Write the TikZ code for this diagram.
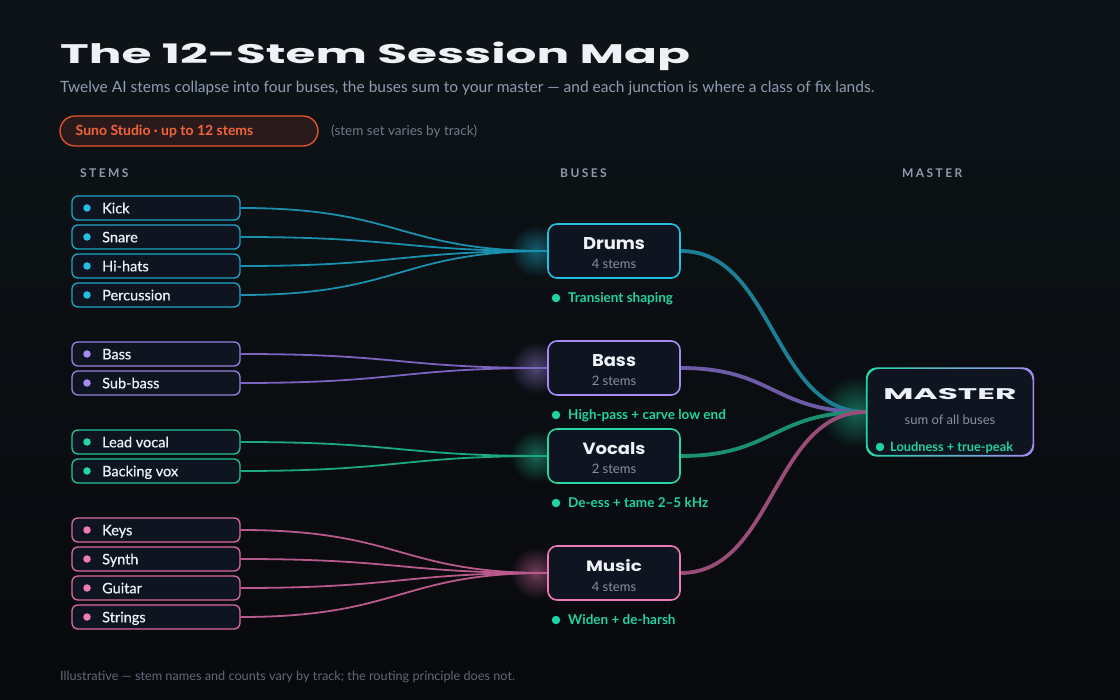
\documentclass[tikz,border=0pt]{standalone}
\usepackage{fontspec}
\setmainfont{Lato}
\newfontfamily\disp{Poppins}
\usepackage{graphicx}
\usetikzlibrary{calc,fadings}

\definecolor{bgT}{HTML}{0D1417}
\definecolor{bgB}{HTML}{08090D}
\definecolor{boxfill}{HTML}{0F1520}
\definecolor{txtW}{HTML}{EEF1F6}
\definecolor{subG}{HTML}{8F9DB2}
\definecolor{headG}{HTML}{8E9AAD}
\definecolor{footG}{HTML}{5F6A79}
\definecolor{dimG}{HTML}{6E7A8B}
\definecolor{stemsG}{HTML}{8790A0}
\definecolor{fixT}{HTML}{21D3A1}
\definecolor{badgeB}{HTML}{E5562B}
\definecolor{badgeF}{HTML}{2B1A1B}
\definecolor{badgeT}{HTML}{F2643A}
% groups
\definecolor{cyB}{HTML}{22C0E4}
\definecolor{cyS}{HTML}{1EA5C8}
\definecolor{cyL}{HTML}{1A8FAE}
\definecolor{cyM}{HTML}{1C7F96}
\definecolor{puB}{HTML}{A68CF2}
\definecolor{puS}{HTML}{9A80E0}
\definecolor{puL}{HTML}{7A64C0}
\definecolor{puM}{HTML}{6D5BA8}
\definecolor{grB}{HTML}{26D6A4}
\definecolor{grS}{HTML}{22C497}
\definecolor{grL}{HTML}{1BA883}
\definecolor{grM}{HTML}{1A8F72}
\definecolor{piB}{HTML}{F07AB6}
\definecolor{piS}{HTML}{DC6AA6}
\definecolor{piL}{HTML}{B85A8C}
\definecolor{piM}{HTML}{9A4D78}
\definecolor{mGreen}{HTML}{22D6A6}
\definecolor{mPurple}{HTML}{A38CF0}

\tikzfading[name=glowfade, inner color=transparent!55, outer color=transparent!100]
\pgfdeclarelayer{bglayer}
\pgfdeclarelayer{lines}
\pgfsetlayers{bglayer,lines,main}

\begin{document}
\begin{tikzpicture}[x=1pt,y=-1pt,
  stembox/.style={draw=#1, line width=1.3pt, fill=boxfill, rounded corners=6pt, minimum width=168pt, minimum height=24pt, inner sep=0pt},
  busbox/.style={draw=#1, line width=1.6pt, fill=boxfill, rounded corners=9pt, minimum width=132pt, minimum height=54pt, inner sep=0pt},
  txt/.style={inner sep=0pt, anchor=base west},
  ctxt/.style={inner sep=0pt, anchor=base},
  sdot/.style={circle, fill=#1, inner sep=0pt, minimum size=7.5pt},
  fdot/.style={circle, fill=fixT, inner sep=0pt, minimum size=8.5pt},
  stemfont/.style={font=\fontsize{14.5}{17}\selectfont\addfontfeature{FakeBold=0.5}, text=txtW},
  fixfont/.style={font=\fontsize{13.5}{16}\selectfont\bfseries, text=fixT},
  headfont/.style={font=\fontsize{12}{14}\selectfont\bfseries\addfontfeature{LetterSpace=20}, text=headG},
  glow/.style={fill=#1, path fading=glowfade},
  sline/.style={line width=1.8pt, draw=#1},
  mline/.style={line width=3.8pt, draw=#1}
]
\useasboundingbox (0,0) rectangle (1120,700);
\begin{pgfonlayer}{bglayer}
  \shade[top color=bgT, bottom color=bgB] (0,0) rectangle (1120,700);
  \fill[glow=cyB] (536,251) circle (26);
  \fill[glow=puB] (536,368) circle (26);
  \fill[glow=grB] (536,456) circle (26);
  \fill[glow=piB] (536,573) circle (26);
  \fill[glow=mGreen] (856,412) circle (36);
\end{pgfonlayer}

% title block
\node[txt, text=txtW] (title) at (60,64) {\resizebox{630pt}{21.5pt}{\disp\bfseries The 12-Stem Session Map}};
\node[txt, text=subG] (subtitle) at (60,93) {\resizebox{814pt}{!}{\fontsize{15}{18}\selectfont Twelve AI stems collapse into four buses, the buses sum to your master — and each junction is where a class of fix lands.}};

\node[draw=badgeB, fill=badgeF, line width=1.3pt, rounded corners=15pt, minimum width=258pt, minimum height=30pt, inner sep=0pt] (badge) at (189,131) {};
\node[txt, text=badgeT, font=\fontsize{14}{16}\selectfont\bfseries] (badgetxt) at (75.5,136) {Suno Studio · up to 12 stems};
\node[txt, text=dimG, font=\fontsize{13.5}{15}\selectfont] (note) at (331,136) {(stem set varies by track)};

\node[txt, headfont] (hstems) at (80,177.5) {STEMS};
\node[txt, headfont] (hbuses) at (560,177.5) {BUSES};
\node[txt, headfont] (hmaster) at (902,177.5) {MASTER};

% stems
\foreach \n/\t/\y/\c/\d in {
  k1/Kick/208/cyS/cyB, k2/Snare/237/cyS/cyB, k3/Hi-hats/266/cyS/cyB, k4/Percussion/295/cyS/cyB,
  k5/Bass/354/puS/puB, k6/Sub-bass/383/puS/puB,
  k7/Lead vocal/442/grS/grB, k8/Backing vox/471/grS/grB,
  k9/Keys/530/piS/piB, k10/Synth/559/piS/piB, k11/Guitar/588/piS/piB, k12/Strings/617/piS/piB} {
  \node[stembox=\c] (\n) at (156,\y) {};
  \node[sdot=\d] (\n-dot) at (87,\y) {};
  \node[txt, stemfont] (\n-txt) at (102,\y+5.3) {\t};
}

% buses
\foreach \n/\t/\w/\y/\c/\s/\f in {
  bd/Drums/62/251/cyB/4/Transient shaping,
  bb/Bass/44/368/puB/2/High-pass + carve low end,
  bv/Vocals/63/456/grB/2/De-ess + tame 2–5 kHz,
  bm/Music/56/573/piB/4/Widen + de-harsh} {
  \node[busbox=\c] (\n) at (614,\y) {};
  \node[ctxt, text=txtW] (\n-title) at (614,\y-1.5) {\resizebox{\w pt}{12pt}{\disp\bfseries \t}};
  \node[ctxt, text=stemsG, font=\fontsize{13}{15}\selectfont] (\n-count) at (614,\y+18) {\s\ stems};
  \node[fdot] (\n-fdot) at (556,\y+47) {};
  \node[txt, fixfont] (\n-fix) at (568,\y+51.8) {\f};
}

% master
\node[fill=boxfill, rounded corners=11pt, minimum width=168pt, minimum height=89pt, inner sep=0pt] (m) at (950,412) {};
\shade[left color=mGreen, right color=mPurple, even odd rule, rounded corners=11pt]
  (m.north west) rectangle (m.south east)
  ($(m.north west)+(1.7,1.7)$) rectangle ($(m.south east)+(-1.7,-1.7)$);
\node[ctxt, text=txtW] (m-title) at (950,400) {\resizebox{133pt}{11pt}{\disp\bfseries MASTER}};
\node[ctxt, text=stemsG, font=\fontsize{13}{15}\selectfont] (m-sub) at (950,425) {sum of all buses};
\node[fdot] (m-fdot) at (880,447) {};
\node[txt, fixfont, font=\fontsize{12.8}{15}\selectfont\bfseries] (m-fix) at (890,451.5) {Loudness + true-peak};

% footer
\node[txt, text=footG, font=\fontsize{12.7}{15}\selectfont] (footer) at (60,680) {Illustrative — stem names and counts vary by track; the routing principle does not.};

% connectors
\begin{pgfonlayer}{lines}
\foreach \n/\b/\c in {k1/bd/cyL, k2/bd/cyL, k3/bd/cyL, k4/bd/cyL,
  k5/bb/puL, k6/bb/puL, k7/bv/grL, k8/bv/grL,
  k9/bm/piL, k10/bm/piL, k11/bm/piL, k12/bm/piL} {
  \draw[sline=\c] (\n.east) .. controls +(160,0) and +(-148,0) .. (\b.west);
}
\foreach \b/\c in {bd/cyM, bb/puM, bv/grM, bm/piM} {
  \draw[mline=\c] (\b.east) .. controls +(93,0) and +(-93,0) .. (m.west);
}
\end{pgfonlayer}
\end{tikzpicture}
\end{document}
